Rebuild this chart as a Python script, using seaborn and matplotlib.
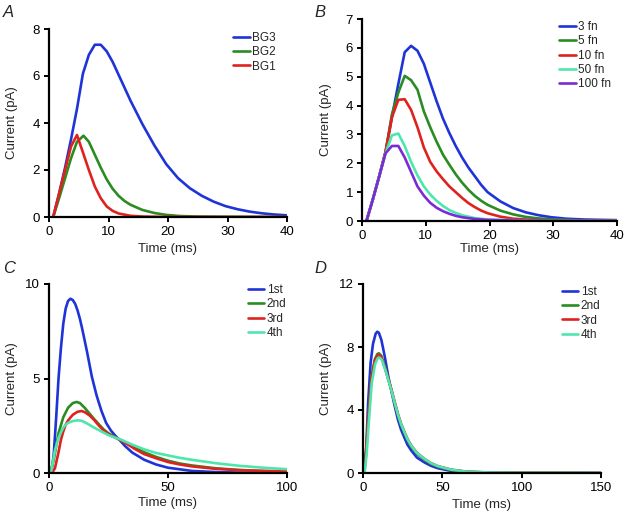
import numpy as np
import pandas as pd
import matplotlib
matplotlib.use('Agg')
import matplotlib.pyplot as plt
import seaborn as sns

# 风格
sns.set_style("ticks")
plt.rcParams['font.family'] = ['Liberation Sans', 'DejaVu Sans']

# 颜色
BLUE = '#1f34d8'
GREEN = '#2a8c22'
RED = '#e0221e'
TEAL = '#4fe6ae'
PURPLE = '#7b2bd6'

# 数据 A ====================================================================
bg3_t = [0.7, 1.7, 2.7, 3.7, 4.7, 5.7, 6.7, 7.7, 8.7, 9.7, 10.7, 11.7, 12.7, 13.7, 14.7,
         15.7, 16.7, 17.7, 18.7, 19.7, 21.7, 23.7, 25.7, 27.7, 29.7, 31.7, 33.7, 35.7, 37.7, 40]
bg3 = [0, 1.0, 2.1, 3.3, 4.6, 6.1, 6.9, 7.33, 7.33, 7.05, 6.6, 6.05, 5.5, 4.95, 4.45,
       3.95, 3.5, 3.05, 2.65, 2.25, 1.65, 1.22, 0.9, 0.65, 0.46, 0.33, 0.23, 0.16, 0.11, 0.07]
bg2_t = [0.7, 1.7, 2.7, 3.7, 4.7, 5.8, 6.7, 7.7, 8.7, 9.7, 10.7, 11.7, 12.7, 13.7, 15.7,
         17.7, 19.7, 22, 25, 30, 40]
bg2 = [0, 0.8, 1.65, 2.5, 3.2, 3.46, 3.2, 2.65, 2.1, 1.6, 1.2, 0.9, 0.68, 0.52, 0.3,
       0.17, 0.09, 0.04, 0.02, 0.01, 0]
bg1_t = [0.7, 1.7, 2.7, 3.7, 4.7, 5.7, 6.7, 7.7, 8.7, 9.7, 10.7, 11.7, 13.7, 15.7, 20, 30, 40]
bg1 = [0, 1.0, 2.0, 3.0, 3.49, 2.75, 2.0, 1.3, 0.8, 0.45, 0.26, 0.15, 0.05, 0.02, 0, 0, 0]

# 数据 B ====================================================================
fn3_t = [0.7, 1.7, 2.7, 3.7, 4.7, 5.7, 6.7, 7.7, 8.7, 9.7, 10.7, 11.7, 12.7, 13.7, 14.7,
         15.7, 16.7, 17.7, 18.7, 19.7, 21.7, 23.7, 25.7, 27.7, 29.7, 32, 35, 40]
fn3 = [0, 0.75, 1.55, 2.4, 3.6, 4.75, 5.85, 6.07, 5.9, 5.45, 4.8, 4.15, 3.55, 3.05, 2.6,
       2.2, 1.85, 1.55, 1.25, 1.0, 0.68, 0.45, 0.3, 0.2, 0.13, 0.08, 0.05, 0.03]
fn5_t = [0.7, 1.7, 2.7, 3.7, 4.7, 5.7, 6.7, 7.7, 8.7, 9.7, 10.7, 11.7, 12.7, 13.7, 14.7,
         15.7, 16.7, 17.7, 18.7, 19.7, 21.7, 23.7, 25.7, 27.7, 29.7, 34.7, 40]
fn5 = [0, 0.75, 1.55, 2.4, 3.7, 4.45, 5.03, 4.88, 4.55, 3.8, 3.25, 2.75, 2.3, 1.95, 1.62,
       1.33, 1.08, 0.87, 0.7, 0.56, 0.36, 0.23, 0.14, 0.09, 0.06, 0.02, 0.01]
fn10_t = [0.7, 1.7, 2.7, 3.7, 4.7, 5.7, 6.7, 7.7, 8.7, 9.7, 10.7, 11.7, 12.7, 13.7, 14.7,
          15.7, 16.7, 17.7, 18.7, 19.7, 21.7, 23.7, 25.7, 29.7, 40]
fn10 = [0, 0.75, 1.55, 2.4, 3.6, 4.2, 4.22, 3.85, 3.25, 2.55, 2.05, 1.72, 1.45, 1.2, 1.0,
        0.8, 0.62, 0.48, 0.36, 0.27, 0.15, 0.08, 0.05, 0.02, 0.01]
fn50_t = [0.7, 1.7, 2.7, 3.7, 4.7, 5.7, 6.7, 7.7, 8.7, 9.7, 10.7, 11.7, 12.7, 13.7, 14.7,
          15.7, 17.7, 19.7, 25, 30, 40]
fn50 = [0, 0.75, 1.55, 2.35, 2.97, 3.03, 2.6, 2.05, 1.58, 1.2, 0.92, 0.7, 0.52, 0.38, 0.28,
        0.2, 0.1, 0.05, 0.02, 0.01, 0]
fn100_t = [0.7, 1.7, 2.7, 3.7, 4.7, 5.7, 6.7, 7.7, 8.7, 9.7, 10.7, 11.7, 12.7, 13.7, 14.7,
           15.7, 17.7, 19.7, 25, 30, 40]
fn100 = [0, 0.75, 1.55, 2.35, 2.6, 2.6, 2.2, 1.7, 1.2, 0.88, 0.63, 0.46, 0.34, 0.25, 0.18,
         0.13, 0.07, 0.04, 0.01, 0.01, 0]

# 数据 C ====================================================================
c1_t = [1, 2, 3, 4, 5, 6, 7, 8, 9, 10, 11, 12, 13, 14, 16, 18, 20, 22, 24, 26, 28, 30, 32,
        35, 40, 45, 50, 60, 70, 80, 100]
c1 = [0, 1.0, 2.9, 5.0, 6.6, 7.9, 8.7, 9.1, 9.22, 9.15, 8.95, 8.6, 8.15, 7.6, 6.4, 5.1, 4.1,
      3.3, 2.65, 2.25, 1.95, 1.7, 1.42, 1.08, 0.7, 0.45, 0.28, 0.11, 0.05, 0.02, 0]
c2_t = [0.5, 2, 4, 6, 8, 10, 11.6, 13, 15, 17, 19, 21, 23, 25, 27, 30, 33, 36, 40, 45, 50,
        55, 60, 70, 80, 90, 100]
c2 = [0, 0.7, 2.1, 2.95, 3.45, 3.7, 3.76, 3.7, 3.45, 3.15, 2.85, 2.57, 2.3, 2.1, 1.95, 1.75,
      1.55, 1.35, 1.1, 0.85, 0.65, 0.5, 0.4, 0.25, 0.16, 0.1, 0.07]
c3_t = [1.2, 2.5, 4, 5, 6, 7, 8, 10, 12, 13.7, 15, 17, 19, 21, 23, 25, 27, 30, 33, 36, 40,
        45, 50, 55, 60, 70, 80, 90, 100]
c3 = [0, 0.25, 1.1, 1.75, 2.2, 2.55, 2.78, 3.08, 3.24, 3.28, 3.22, 3.05, 2.8, 2.5, 2.25,
      2.05, 1.92, 1.75, 1.52, 1.28, 1.0, 0.78, 0.58, 0.45, 0.35, 0.22, 0.15, 0.11, 0.09]
c4_t = [0.8, 2.5, 4, 5, 6, 7, 8, 10, 12.3, 14, 16, 18, 20, 22, 25, 28, 30, 35, 40, 45, 50,
        55, 60, 70, 80, 90, 100]
c4 = [0, 1.2, 1.85, 2.15, 2.4, 2.55, 2.65, 2.75, 2.79, 2.75, 2.62, 2.47, 2.33, 2.2, 2.0,
      1.86, 1.78, 1.5, 1.25, 1.06, 0.93, 0.8, 0.7, 0.52, 0.38, 0.28, 0.2]

# 数据 D ====================================================================
d1_t = [0.6, 2.1, 3.2, 4.8, 6.3, 8, 9, 10, 11.6, 13.7, 15.8, 17.9, 20, 22, 24, 26.3, 28,
        30.5, 34, 38.9, 43, 47.3, 55.7, 65, 80, 100, 150]
d1 = [0, 1.7, 4.4, 7.0, 8.2, 8.85, 8.97, 8.9, 8.44, 7.4, 6.2, 5.2, 4.25, 3.4, 2.75, 2.2,
      1.8, 1.42, 0.98, 0.66, 0.45, 0.3, 0.13, 0.05, 0.01, 0, 0]
d2_t = [0.8, 2, 3.2, 5.3, 7.4, 9, 10, 11.5, 13.7, 15.8, 17.9, 20, 22, 24, 26.3, 28, 30.5,
        34, 38.9, 43, 47.3, 55.7, 65, 80, 100, 150]
d2 = [0, 1.4, 3.4, 6.1, 7.2, 7.55, 7.6, 7.45, 6.75, 6.0, 5.27, 4.45, 3.7, 3.05, 2.5, 2.1,
      1.67, 1.22, 0.83, 0.58, 0.4, 0.19, 0.08, 0.02, 0.01, 0]
d3_t = d2_t
d3 = [0, 1.3, 3.25, 5.95, 7.1, 7.45, 7.5, 7.38, 6.72, 6.0, 5.3, 4.5, 3.75, 3.12, 2.57, 2.17,
      1.73, 1.28, 0.88, 0.62, 0.43, 0.21, 0.09, 0.03, 0.01, 0]
d4_t = [1.0, 2.3, 3.5, 5.5, 7.6, 9.2, 10.3, 11.8, 13.9, 16, 18, 20, 22, 24, 26.3, 28, 30.5,
        34, 38.9, 43, 47.3, 55.7, 65, 80, 100, 150]
d4 = [0, 1.2, 3.0, 5.7, 6.9, 7.28, 7.33, 7.2, 6.6, 5.9, 5.2, 4.45, 3.72, 3.1, 2.55, 2.15,
      1.72, 1.27, 0.88, 0.62, 0.43, 0.21, 0.09, 0.03, 0.01, 0]


def to_long(series):
    frames = []
    for name, t, v in series:
        frames.append(pd.DataFrame({'t': t, 'I': v, 'name': name}))
    return pd.concat(frames, ignore_index=True)


panels = [
    dict(letter='A', pos=[49, 287, 29, 217], xlim=(0, 40), xticks=[0, 10, 20, 30, 40],
         ylim=(0, 8), yticks=[0, 2, 4, 6, 8],
         series=[('BG3', bg3_t, bg3), ('BG2', bg2_t, bg2), ('BG1', bg1_t, bg1)],
         colors=[BLUE, GREEN, RED], leg=(0.773, 0.985), ylab_x=18, xlab_y=243,
         letter_xy=(3, 17)),
    dict(letter='B', pos=[362, 617, 19, 221], xlim=(0, 40), xticks=[0, 10, 20, 30, 40],
         ylim=(0, 7), yticks=list(range(8)),
         series=[('3 fn', fn3_t, fn3), ('5 fn', fn5_t, fn5), ('10 fn', fn10_t, fn10),
                 ('50 fn', fn50_t, fn50), ('100 fn', fn100_t, fn100)],
         colors=[BLUE, GREEN, RED, TEAL, PURPLE], leg=(0.773, 0.99), ylab_x=332, xlab_y=243,
         letter_xy=(314, 17)),
    dict(letter='C', pos=[49, 287, 284, 473], xlim=(0, 100), xticks=[0, 50, 100],
         ylim=(0, 10), yticks=[0, 5, 10],
         series=[('1st', c1_t, c1), ('2nd', c2_t, c2), ('3rd', c3_t, c3), ('4th', c4_t, c4)],
         colors=[BLUE, GREEN, RED, TEAL], leg=(0.836, 1.0), ylab_x=18, xlab_y=497,
         letter_xy=(3, 273)),
    dict(letter='D', pos=[363, 601, 284, 473], xlim=(0, 150), xticks=[0, 50, 100, 150],
         ylim=(0, 12), yticks=[0, 4, 8, 12],
         series=[('1st', d1_t, d1), ('2nd', d2_t, d2), ('3rd', d3_t, d3), ('4th', d4_t, d4)],
         colors=[BLUE, GREEN, RED, TEAL], leg=(0.836, 0.99), ylab_x=332, xlab_y=499,
         letter_xy=(314, 273)),
]

W, H = 628, 513
fig = plt.figure(figsize=(W / 100, H / 100), dpi=100)

for p in panels:
    l, r, t, b = p['pos']
    ax = fig.add_axes([l / W, 1 - b / H, (r - l) / W, (b - t) / H])
    df = to_long(p['series'])
    names = [s[0] for s in p['series']]
    sns.lineplot(data=df, x='t', y='I', hue='name', hue_order=names,
                 palette=dict(zip(names, p['colors'])), estimator=None, sort=False,
                 linewidth=1.9, ax=ax)

    ax.set_xlim(*p['xlim'])
    ax.set_ylim(*p['ylim'])
    ax.set_xticks(p['xticks'])
    ax.set_yticks(p['yticks'])
    sns.despine(ax=ax)
    for s in ['left', 'bottom']:
        ax.spines[s].set_linewidth(1.6)
        ax.spines[s].set_color('black')
    ax.tick_params(direction='out', length=3.5, width=1.4, labelsize=9.5, colors='black', pad=3)

    ax.set_xlabel('Time (ms)', fontsize=9.5)
    ax.set_ylabel('Current (pA)', fontsize=9.5)
    ax.yaxis.set_label_coords((p['ylab_x'] - l) / (r - l), 0.5)
    ax.xaxis.set_label_coords(0.5, (b - p['xlab_y']) / (b - t))

    # 图例
    old = ax.get_legend()
    handles = old.legend_handles
    labels = [tx.get_text() for tx in old.get_texts()]
    old.remove()
    for h in handles:
        h.set_linewidth(1.9)
    ax.legend(handles, labels, loc='upper left', bbox_to_anchor=p['leg'], frameon=False,
              fontsize=8.5, handlelength=1.4, handletextpad=0.2, labelspacing=0.2,
              borderpad=0, borderaxespad=0)

    lx, ly = p['letter_xy']
    fig.text(lx / W, 1 - ly / H, p['letter'], fontsize=12, style='italic',
             ha='left', va='baseline')

fig.savefig('out.png', dpi=100)
